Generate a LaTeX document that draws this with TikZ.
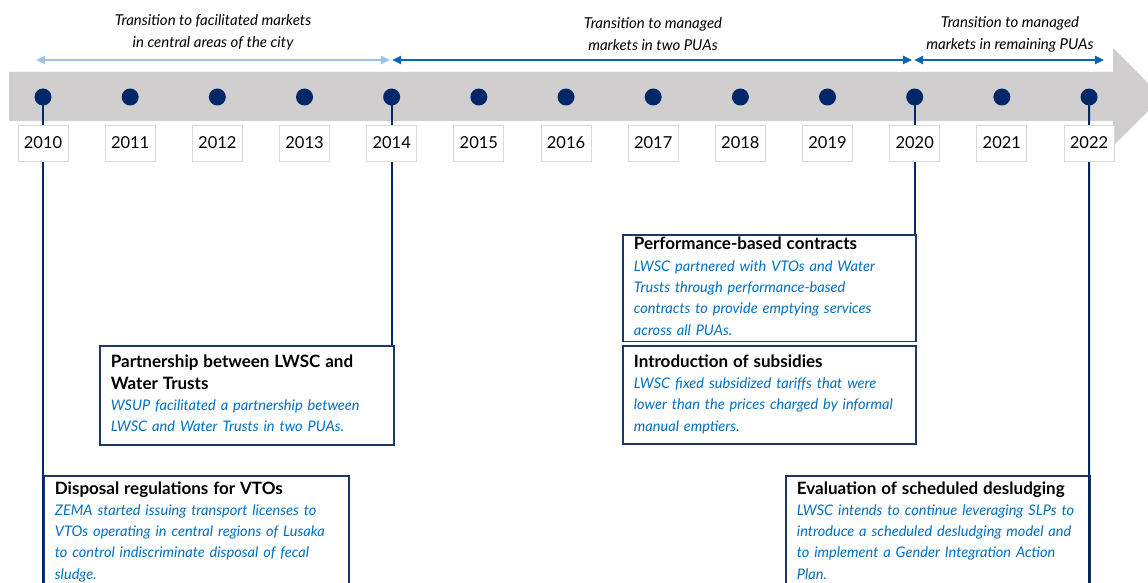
\documentclass[tikz,border=0pt]{standalone}
\usepackage{fontspec}
\setmainfont{Lato}
\usetikzlibrary{arrows.meta}
\definecolor{navy}{RGB}{0,40,104}
\definecolor{boxline}{RGB}{30,55,105}
\definecolor{txtblue}{RGB}{0,112,192}
\definecolor{lightarrow}{RGB}{157,195,230}
\definecolor{darkarrow}{RGB}{10,100,180}
\definecolor{bandgray}{RGB}{208,206,206}
\definecolor{yeargray}{RGB}{217,217,217}
\newcommand{\evhead}[1]{{\fontsize{17}{21.3}\selectfont\bfseries #1}}
\newcommand{\evtext}[1]{{\color{txtblue}\itshape #1}}
\begin{document}
\begin{tikzpicture}[x=1pt,y=-1pt,
  dot/.style={circle,fill=navy,inner sep=0pt,minimum size=17pt},
  yearbox/.style={draw=yeargray,line width=0.8pt,fill=white,minimum width=50pt,minimum height=36pt,inner sep=0pt,font=\fontsize{16.5}{18}\selectfont},
  vline/.style={draw=navy,line width=2pt},
  evbox/.style={draw=boxline,line width=1.8pt,fill=white,anchor=north west,inner xsep=11pt,inner ysep=0pt,align=left,
    font=\fontsize{14.6}{21.3}\selectfont,execute at begin node=\strut,execute at end node=\strut},
  spanlight/.style={draw=lightarrow,line width=2.6pt,{Triangle[length=9pt,width=8pt]}-{Triangle[length=9pt,width=8pt]}},
  spandark/.style={draw=darkarrow,line width=2.6pt,{Triangle[length=9pt,width=8pt]}-{Triangle[length=9pt,width=8pt]}},
  spanlabel/.style={align=center,font=\fontsize{15}{22}\selectfont\itshape,inner sep=0pt}
]
\useasboundingbox (0,0) rectangle (1148,583);
\clip (0,0) rectangle (1148,583);
\fill[white] (0,0) rectangle (1148,583);

% timeline band with arrow head
\fill[bandgray] (9,72) -- (1113,72) -- (1113,48) -- (1162,97) -- (1113,146) -- (1113,121) -- (9,121) -- cycle;

% year positions on the band
\foreach \i in {0,...,12}{
  \pgfmathtruncatemacro{\yr}{2010+\i}
  \coordinate (p\yr) at ({43+\i*87.17},97);
}

% event boxes
\node[evbox,text width=283pt,minimum width=305pt,minimum height=113pt] (disp) at (43,475)
  {\evhead{Disposal regulations for VTOs}\\
   \evtext{ZEMA started issuing transport licenses to}\\
   \evtext{VTOs operating in central regions of Lusaka}\\
   \evtext{to control indiscriminate disposal of fecal}\\
   \evtext{sludge.}};
\node[evbox,text width=272pt,minimum width=294pt,minimum height=99pt] (part) at (99,345)
  {\evhead{Partnership between LWSC and}\\
   \evhead{Water Trusts}\\
   \evtext{WSUP facilitated a partnership between}\\
   \evtext{LWSC and Water Trusts in two PUAs.}};
\node[evbox,text width=271pt,minimum width=293pt,minimum height=104pt] (perf) at (622,234)
  {\evhead{Performance-based contracts}\\
   \evtext{LWSC partnered with VTOs and Water}\\
   \evtext{Trusts through performance-based}\\
   \evtext{contracts to provide emptying services}\\
   \evtext{across all PUAs.}};
\node[evbox,text width=271pt,minimum width=293pt,minimum height=98pt] (subs) at (622,345)
  {\evhead{Introduction of subsidies}\\
   \evtext{LWSC fixed subsidized tariffs that were}\\
   \evtext{lower than the prices charged by informal}\\
   \evtext{manual emptiers.}};
\node[evbox,text width=282pt,minimum width=304pt,minimum height=113pt] (eval) at (785,475)
  {\evhead{Evaluation of scheduled desludging}\\
   \evtext{LWSC intends to continue leveraging SLPs to}\\
   \evtext{introduce a scheduled desludging model and}\\
   \evtext{to implement a Gender Integration Action}\\
   \evtext{Plan.}};

% connectors from the years to the events
\coordinate (end2010) at (43,600);
\coordinate (end2022) at (1089,600);
\draw[vline] (p2010) -- (end2010);
\draw[vline] (p2014) -- (p2014 |- part.north);
\draw[vline] (p2020) -- (p2020 |- perf.north);
\draw[vline] (p2022) -- (end2022);

% dots and year labels
\foreach \i in {0,...,12}{
  \pgfmathtruncatemacro{\yr}{2010+\i}
  \node[dot] (d\yr) at (p\yr) {};
  \node[yearbox] (y\yr) at ({43+\i*87.17},143) {\yr};
}

% phase spans above the band
\coordinate (s0) at (36,60);
\coordinate (s1) at (391,60);
\coordinate (s2) at (913,60);
\coordinate (s3) at (1104,60);
\draw[spanlight] (s0) -- ([xshift=-1pt]s1);
\draw[spandark] ([xshift=1pt]s1) -- ([xshift=-1pt]s2);
\draw[spandark] ([xshift=1pt]s2) -- (s3);

\node[spanlabel] (l1) at (213,32) {Transition to facilitated markets\\in central areas of the city};
\node[spanlabel] (l2) at (653,34) {Transition to managed\\markets in two PUAs};
\node[spanlabel] (l3) at (1010,34) {Transition to managed\\markets in remaining PUAs};
\end{tikzpicture}
\end{document}
